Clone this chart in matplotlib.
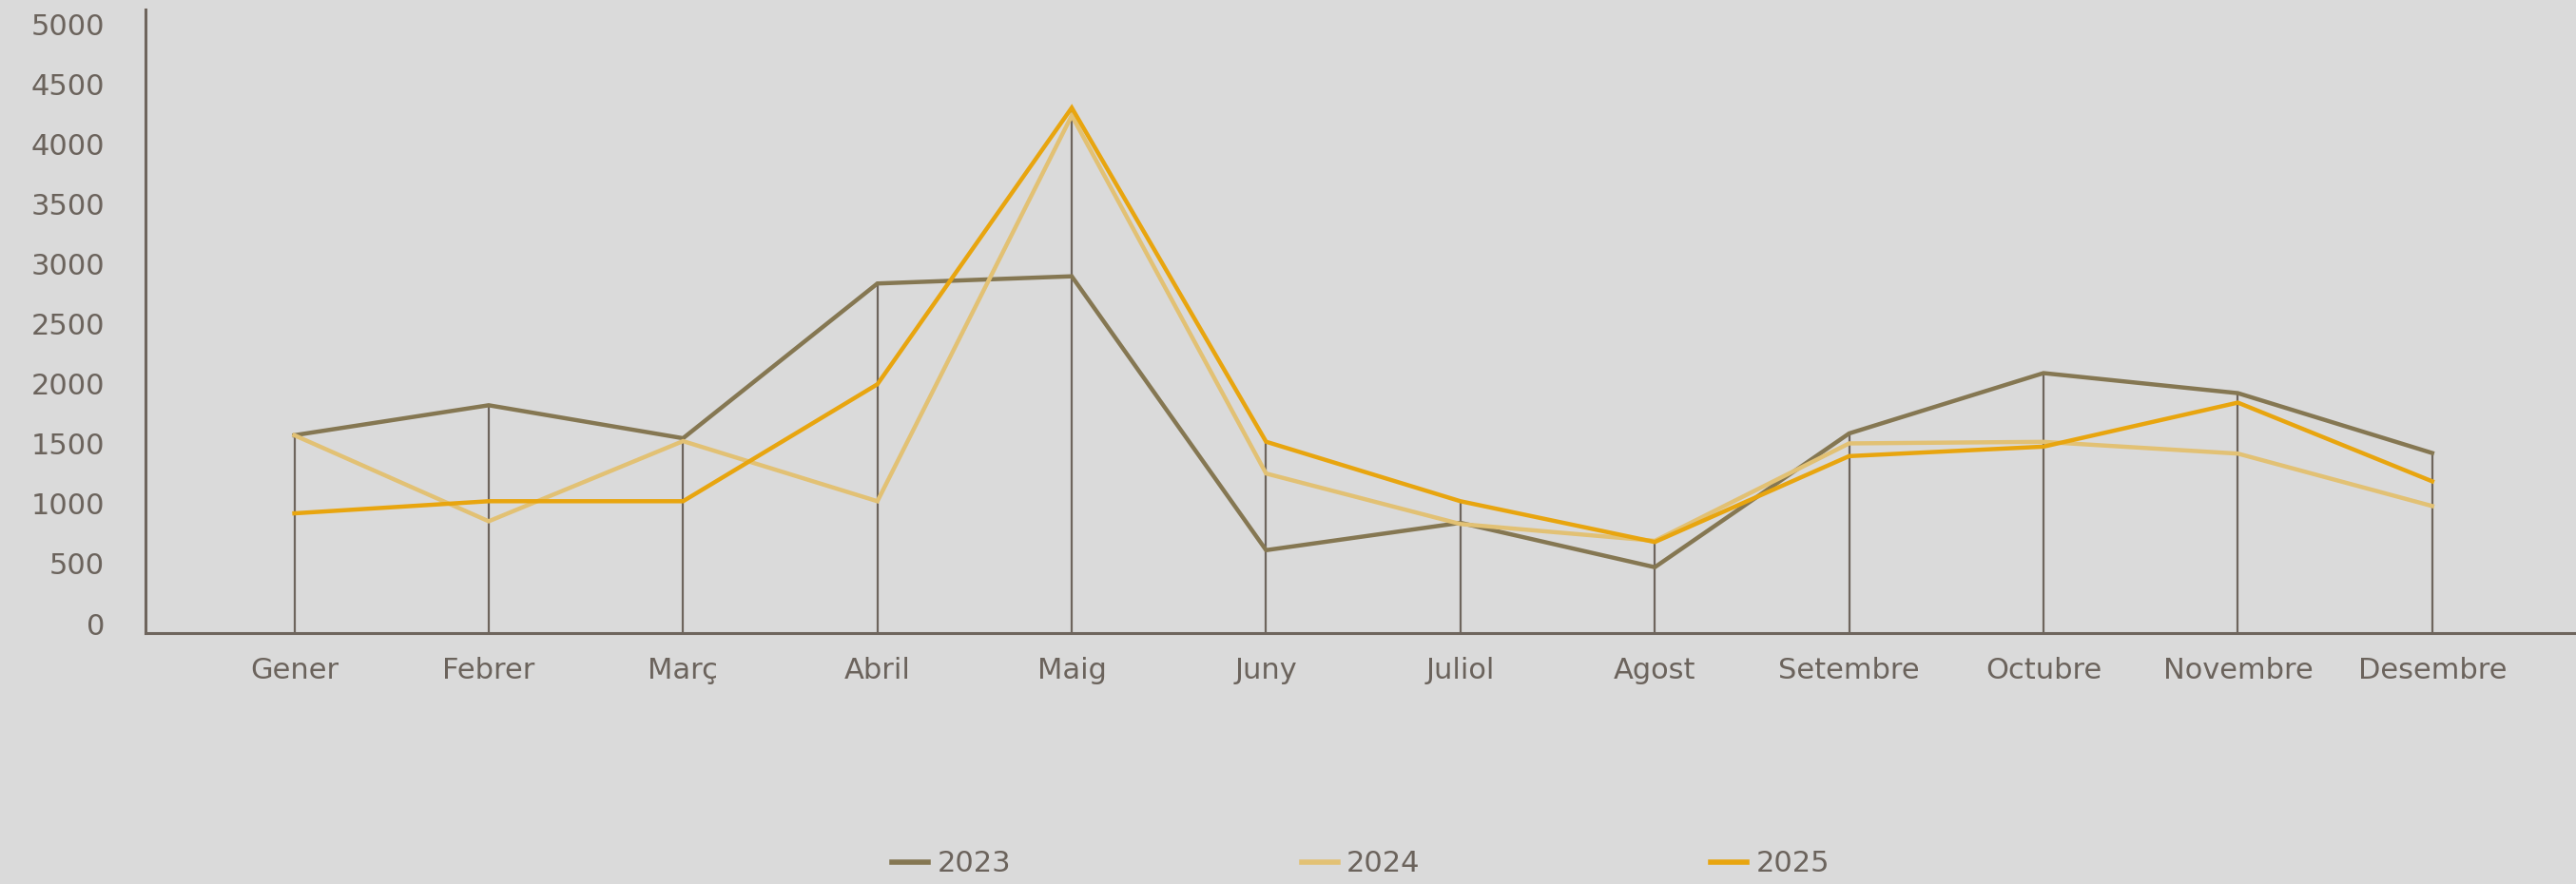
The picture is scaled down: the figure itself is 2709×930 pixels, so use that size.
import matplotlib
matplotlib.use("Agg")
import matplotlib.pyplot as plt
import numpy as np

# mesos i valors (llegits del grafic)
months = ["Gener", "Febrer", "Març", "Abril", "Maig", "Juny", "Juliol",
          "Agost", "Setembre", "Octubre", "Novembre", "Desembre"]
v2023 = [1570, 1820, 1545, 2835, 2895, 612, 840, 470, 1585, 2088, 1921, 1422]
v2024 = [1570, 853, 1521, 1020, 4235, 1251, 830, 690, 1502, 1515, 1417, 980]
v2025 = [919, 1020, 1020, 1995, 4300, 1516, 1020, 680, 1396, 1475, 1842, 1186]
series = {"2023": v2023, "2024": v2024, "2025": v2025}
yticks = list(range(0, 5001, 500))

colors = {"2023": "#857752", "2024": "#e2c174", "2025": "#e8a50f"}
bg = "#dadada"
axis_col = "#6e655d"
text_col = "#6b635c"

plt.rcParams['font.family'] = ['DejaVu Sans']

fig = plt.figure(figsize=(27.09, 9.30), dpi=100, facecolor=bg)
ax = fig.add_axes([153 / 2709, 1 - 666 / 930, 1 - 153 / 2709, 656 / 930])
ax.set_facecolor(bg)

x = np.arange(len(months))
ax.set_xlim(-0.766, 11.74)
ax.set_ylim(-79, 5119)

# linies verticals fins al valor maxim de cada mes
top = np.max(np.array(list(series.values())), axis=0)
ax.vlines(x, ax.get_ylim()[0], top, color=axis_col, lw=1.6, zorder=1)

for z, (name, vals) in enumerate(series.items()):
    ax.plot(x, vals, color=colors[name], lw=3.2, label=name,
            solid_joinstyle='miter', zorder=2 + z)

ax.set_xticks(x)
ax.set_xticklabels(months)
ax.set_yticks(yticks)
ax.tick_params(axis='both', length=0, labelsize=22, labelcolor=text_col)
ax.tick_params(axis='y', pad=31)
ax.tick_params(axis='x', pad=18)

for s in ["top", "right"]:
    ax.spines[s].set_visible(False)
for s in ["left", "bottom"]:
    ax.spines[s].set_color(axis_col)
    ax.spines[s].set_linewidth(2.2)

leg = ax.legend(loc='center', bbox_to_anchor=(0.5, -0.37), ncol=3,
                frameon=False, fontsize=22, handlelength=1.25,
                handletextpad=0.3, columnspacing=10.0)
for t in leg.get_texts():
    t.set_color(text_col)
for h in leg.get_lines():
    h.set_linewidth(4)

fig.savefig("out.png", dpi=100, facecolor=bg)
